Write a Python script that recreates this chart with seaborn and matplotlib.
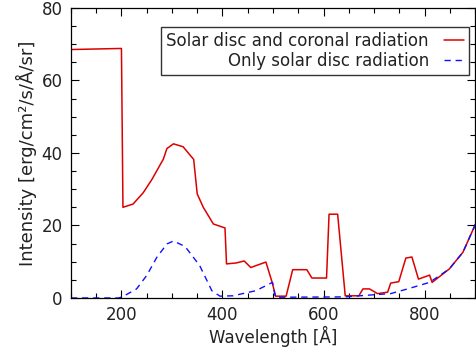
import matplotlib
matplotlib.use("Agg")
import matplotlib.pyplot as plt
import seaborn as sns
import pandas as pd
from matplotlib.ticker import MultipleLocator

# Solar disc and coronal radiation (red solid)
red_x = [100, 200, 203, 223, 243, 260, 283, 290, 303, 322, 343, 350, 362, 382, 405, 408,
         427, 443, 456, 486, 499, 505, 526, 539, 567, 577, 606, 611, 628, 643, 670, 678,
         691, 707, 727, 733, 749, 763, 775, 788, 810, 815, 849, 876, 901]
red_y = [68.5, 68.8, 25.0, 25.9, 29.0, 32.6, 38.3, 41.2, 42.5, 41.7, 38.2, 28.7, 25.0, 20.4, 19.3, 9.4,
         9.65, 10.2, 8.4, 9.9, 4.0, 0.5, 0.5, 7.8, 7.8, 5.5, 5.5, 23.1, 23.1, 0.6, 0.6, 2.5,
         2.5, 1.2, 1.6, 4.1, 4.5, 11.0, 11.3, 5.2, 6.3, 4.3, 8.0, 12.6, 20.4]

# Only solar disc radiation (blue dashed)
blue_x = [100, 195, 203, 230, 250, 270, 290, 303, 326, 355, 379, 395, 421, 427, 466, 499,
          505, 643, 691, 733, 769, 810, 849, 876, 901]
blue_y = [0.0, 0.0, 0.4, 2.5, 6.2, 11.2, 14.9, 15.7, 14.2, 8.9, 2.0, 0.5, 0.6, 0.8, 2.0, 4.3,
          0.2, 0.3, 0.8, 1.2, 2.6, 4.3, 8.0, 12.6, 20.4]

label_red = "Solar disc and coronal radiation"
label_blue = "Only solar disc radiation"

sns.set_style("ticks")
plt.rcParams['font.family'] = ['DejaVu Sans']

fig = plt.figure(figsize=(4.76, 3.56), dpi=100)
ax = fig.add_axes([0.149, 0.163, 0.849, 0.815])

df_r = pd.DataFrame({"x": red_x, "y": red_y})
df_b = pd.DataFrame({"x": blue_x, "y": blue_y})
sns.lineplot(data=df_r, x="x", y="y", ax=ax, color="#dd0000", lw=1.1,
             sort=False, estimator=None, label=label_red)
sns.lineplot(data=df_b, x="x", y="y", ax=ax, color="#1010ff", lw=1.0,
             sort=False, estimator=None, label=label_blue, dashes=False)
ax.lines[1].set_dashes([4.5, 3.5])

ax.set_xlim(100, 900)
ax.set_ylim(0, 80)
ax.xaxis.set_major_locator(MultipleLocator(200))
ax.xaxis.set_minor_locator(MultipleLocator(50))
ax.yaxis.set_major_locator(MultipleLocator(20))
ax.yaxis.set_minor_locator(MultipleLocator(5))
ax.tick_params(which="both", direction="in", top=True, right=True, width=0.8,
               labelsize=12, colors="black", labelcolor="#222222")
ax.tick_params(which="major", length=6, pad=6)
ax.tick_params(which="minor", length=3.5)
for s in ax.spines.values():
    s.set_linewidth(0.9)
    s.set_color("black")

ax.set_xlabel("Wavelength [Å]", fontsize=12, color="#222222", labelpad=1)
ax.set_ylabel("Intensity [erg/cm²/s/Å/sr]", fontsize=13, color="#222222", labelpad=3)

leg = ax.legend(loc="upper right", bbox_to_anchor=(0.985, 0.934), markerfirst=False,
                fontsize=12, frameon=True, fancybox=False, handlelength=1.2,
                borderpad=0.3, labelspacing=0.1, handletextpad=0.9,
                borderaxespad=0)
leg.get_frame().set_edgecolor("black")
leg.get_frame().set_linewidth(1.0)
for t in leg.get_texts():
    t.set_ha("right")
    t.set_color("#222222")
leg._legend_box.align = "right"

fig.savefig("out.png", dpi=100)
